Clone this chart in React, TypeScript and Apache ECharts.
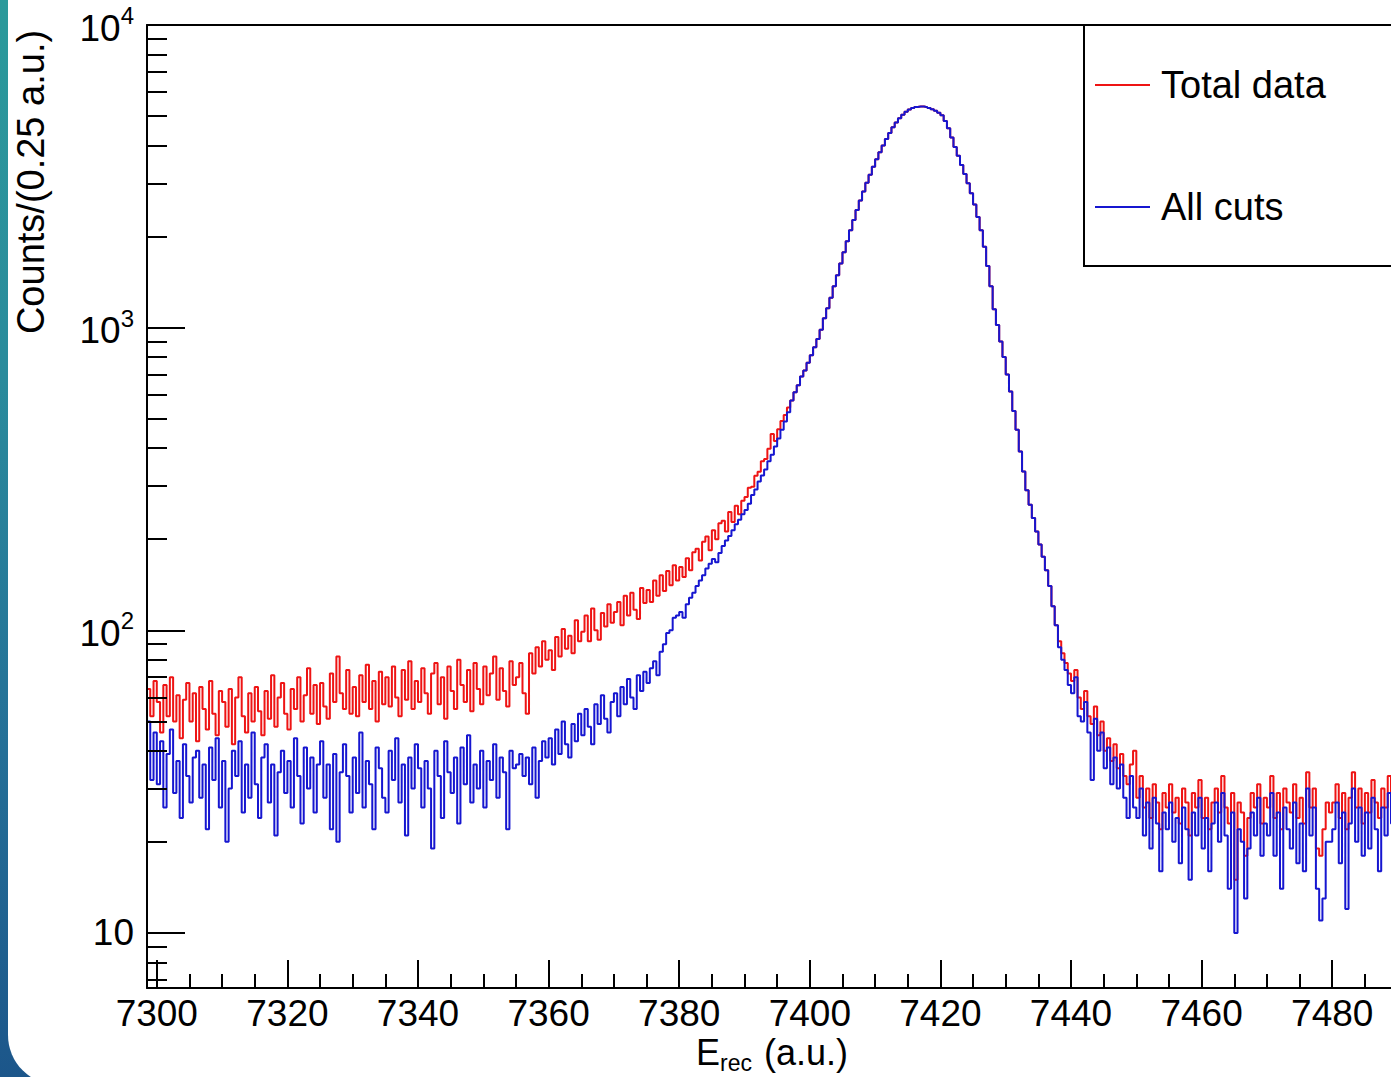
import React, { useEffect, useRef } from 'react';
import * as echarts from 'echarts';

const FONT = '"Liberation Sans", Arial, Helvetica, sans-serif';
const RED = '#ee1414';
const BLUE = '#1616d0';

// histogram binning (E_rec, a.u.)
const binStart = 7298.5;
const binWidth = 0.5;
const xMin = 7298.5;
const xMax = 7489;
const yMin = 6.58;
const yMax = 10000;

const xMajorTicks = [7300, 7320, 7340, 7360, 7380, 7400, 7420, 7440, 7460, 7480];
const xMinorTicks = [
  7305, 7310, 7315, 7325, 7330, 7335, 7345, 7350, 7355, 7365, 7370, 7375,
  7385, 7390, 7395, 7405, 7410, 7415, 7425, 7430, 7435, 7445, 7450, 7455,
  7465, 7470, 7475, 7485,
];
const yDecadeTicks = [10, 100, 1000, 10000];
const yMinorTicks = [
  7, 8, 9, 20, 30, 40, 50, 60, 70, 80, 90, 200, 300, 400, 500, 600, 700, 800, 900,
  2000, 3000, 4000, 5000, 6000, 7000, 8000, 9000,
];

// Total data, counts per bin starting at 7298.5
const totalData = [
  64, 52, 68,
  58, 46, 66, 52, 70, 50, 61, 44, 59, 67,
  50, 62, 43, 65, 55, 47, 68, 53, 45, 63,
  58, 48, 64, 42, 60, 70, 52, 46, 62, 50,
  65, 54, 45, 63, 51, 71, 48, 60, 67, 53,
  47, 64, 55, 70, 50, 61, 75, 53, 66, 49,
  67, 56, 51, 72, 58, 82, 62, 55, 74, 53,
  65, 52, 71, 58, 77, 55, 68, 50, 73, 57,
  70, 56, 76, 60, 52, 74, 59, 79, 55, 68,
  58, 75, 62, 53, 72, 78, 57, 70, 51, 76,
  63, 55, 80, 66, 58, 74, 54, 78, 64, 57,
  76, 61, 72, 82, 59, 75, 63, 56, 79, 66,
  70, 78, 62, 53, 84, 72, 88, 76, 92, 80,
  86, 74, 95, 82, 101, 87, 96, 84, 108, 92,
  99, 112, 92, 118, 100, 93, 114, 103, 122, 106,
  115, 124, 104, 130, 112, 133, 117, 109, 138, 123,
  136, 124, 146, 130, 152, 135, 157, 141, 164, 146,
  162, 150, 173, 158, 181, 186, 170, 196, 204, 184,
  214, 200, 226, 230, 212, 246, 228, 258, 242, 268,
  276, 296, 298, 324, 334, 362, 368, 398, 445, 422,
  462, 492, 515, 545, 575, 612, 645, 690, 722, 765,
  810, 862, 918, 985, 1075, 1160, 1255, 1370, 1490, 1630,
  1775, 1930, 2100, 2270, 2450, 2630, 2820, 3010, 3200, 3400,
  3600, 3800, 4000, 4200, 4400, 4590, 4760, 4920, 5050, 5170,
  5260, 5320, 5360, 5380, 5375, 5350, 5320, 5270, 5210, 5130,
  5030, 4820, 4560, 4250, 3950, 3700, 3450, 3220, 3000, 2780,
  2550, 2320, 2100, 1850, 1600, 1370, 1150, 1020, 900, 800,
  700, 615, 530, 460, 390, 335, 290, 260, 235, 212,
  192, 175, 158, 140, 120, 104, 92, 84, 78, 72,
  68, 74, 60, 55, 63, 52, 49, 56, 45, 50,
  40, 44, 37, 42, 35, 39, 33, 31, 36, 40,
  28, 33, 26, 30, 24, 31, 27, 22, 29, 26,
  31, 25, 28, 23, 30, 27, 21, 29, 26, 32,
  24, 28, 22, 27, 30, 25, 33, 26, 23, 29,
  15, 27, 25, 18, 24, 29, 26, 31, 23, 28,
  26, 33, 24, 29, 22, 30, 27, 25, 31, 24,
  28, 23, 34, 26, 30, 19, 18, 22, 27, 25,
  27, 31, 24, 29, 22, 28, 34, 26, 30, 23,
  29, 25, 32, 27, 24, 30, 26, 33, 28, 25,
];

// All cuts, counts per bin starting at 7298.5
const allCuts = [
  50, 32, 46,
  31, 43, 26, 39, 47, 29, 37, 24, 42, 33,
  27, 38, 40, 28, 36, 22, 41, 32, 44, 26,
  37, 20, 30, 40, 33, 43, 25, 36, 28, 46,
  31, 24, 38, 42, 27, 36, 21, 34, 40, 29,
  37, 26, 44, 33, 23, 41, 30, 38, 25, 36,
  43, 28, 36, 22, 39, 20, 34, 42, 33, 25,
  38, 29, 46, 26, 37, 31, 22, 41, 35, 28,
  25, 40, 32, 44, 27, 36, 21, 38, 30, 42,
  35, 26, 37, 30, 19, 40, 33, 24, 43, 34,
  29, 38, 23, 41, 31, 45, 27, 36, 30, 40,
  26, 37, 32, 42, 28, 38, 34, 22, 40, 35,
  36, 39, 33, 38, 31, 41, 28, 37, 43, 38,
  44, 36, 47, 39, 50, 42, 38, 49, 43, 53,
  45, 55, 48, 42, 57, 49, 61, 51, 46, 58,
  62, 52, 65, 57, 69, 60, 55, 71, 63, 73,
  67, 75, 79, 71, 85, 90, 98, 100, 110, 112,
  115, 110, 122, 128, 133, 140, 146, 152, 160, 166,
  172, 168, 180, 190, 198, 205, 214, 224, 232, 242,
  250, 262, 280, 292, 310, 325, 340, 362, 380, 405,
  430, 460, 490, 525, 575, 612, 645, 690, 722, 765,
  810, 862, 918, 985, 1075, 1160, 1255, 1370, 1490, 1630,
  1775, 1930, 2100, 2270, 2450, 2630, 2820, 3010, 3200, 3400,
  3600, 3800, 4000, 4200, 4400, 4590, 4760, 4920, 5050, 5170,
  5260, 5320, 5360, 5380, 5375, 5350, 5320, 5270, 5210, 5130,
  5030, 4820, 4560, 4250, 3950, 3700, 3450, 3220, 3000, 2780,
  2550, 2320, 2100, 1850, 1600, 1370, 1150, 1020, 900, 800,
  700, 615, 530, 460, 390, 335, 290, 260, 235, 212,
  192, 175, 158, 140, 120, 104, 88, 80, 74, 66,
  62, 70, 52, 50, 58, 46, 32, 51, 40, 46,
  35, 41, 31, 38, 30, 36, 28, 24, 33, 26,
  24, 30, 21, 27, 19, 28, 23, 16, 25, 22,
  27, 20, 24, 17, 26, 22, 15, 25, 21, 28,
  19, 24, 16, 23, 27, 20, 29, 21, 14, 25,
  10, 22, 20, 13, 19, 25, 21, 28, 18, 23,
  21, 29, 18, 25, 14, 26, 22, 19, 27, 17,
  23, 16, 30, 21, 26, 14, 11, 13, 20, 20,
  22, 27, 17, 25, 12, 23, 30, 20, 26, 18,
  25, 19, 28, 22, 16, 26, 21, 29, 23, 18,
];

function toSteps(values: number[]): number[][] {
  const pts = values.map((v, i) => [binStart + i * binWidth, v]);
  pts.push([binStart + values.length * binWidth, values[values.length - 1]]);
  return pts;
}

const axisBlack = { color: '#000', width: 2 };

function buildOption() {
  const logMin = Math.log10(yMin);
  const logMax = Math.log10(yMax);
  return {
    animation: false,
    textStyle: { fontFamily: FONT },
    grid: { left: 147, right: 0, top: 25, bottom: 89 },
    legend: {
      orient: 'vertical',
      left: 1084,
      top: 25,
      padding: [41, 90, 40, 11],
      itemGap: 84,
      itemWidth: 55,
      itemHeight: 2,
      icon: 'rect',
      backgroundColor: '#fff',
      borderColor: '#000',
      borderWidth: 2,
      borderRadius: 0,
      selectedMode: false,
      textStyle: { fontSize: 38, fontFamily: FONT, color: '#000', padding: [0, 0, 0, 6] },
      data: [
        { name: 'Total data', itemStyle: { color: RED } },
        { name: 'All cuts', itemStyle: { color: BLUE } },
      ],
    },
    xAxis: [
      { type: 'value', min: xMin, max: xMax, show: false },
      {
        type: 'value', min: xMin, max: xMax, position: 'bottom', z: 5,
        axisLine: { show: true, onZero: false, lineStyle: axisBlack },
        axisTick: { show: true, inside: true, length: 28, customValues: xMajorTicks, lineStyle: axisBlack },
        axisLabel: {
          show: true, customValues: xMajorTicks, margin: 10, fontSize: 37, lineHeight: 30,
          fontFamily: FONT, color: '#000',
          formatter: (v: number) => String(Math.round(v)),
        },
        splitLine: { show: false },
      },
      {
        type: 'value', min: xMin, max: xMax, position: 'bottom', z: 5,
        axisLine: { show: false },
        axisTick: { show: true, inside: true, length: 14, customValues: xMinorTicks, lineStyle: axisBlack },
        axisLabel: { show: false },
        splitLine: { show: false },
      },
      {
        type: 'value', min: xMin, max: xMax, position: 'top', z: 5,
        axisLine: { show: true, onZero: false, lineStyle: axisBlack },
        axisTick: { show: false },
        axisLabel: { show: false },
        splitLine: { show: false },
      },
    ],
    yAxis: [
      { type: 'log', logBase: 10, min: yMin, max: yMax, show: false },
      {
        type: 'value', min: logMin, max: logMax, position: 'left', z: 5,
        axisLine: { show: true, onZero: false, lineStyle: axisBlack },
        axisTick: {
          show: true, inside: true, length: 38,
          customValues: yDecadeTicks.map((v) => Math.log10(v)), lineStyle: axisBlack,
        },
        axisLabel: {
          show: true,
          customValues: yDecadeTicks.map((v) => Math.log10(v)),
          margin: 13,
          showMinLabel: true,
          showMaxLabel: true,
          formatter: (v: number) => {
            const n = Math.round(v);
            return n === 1 ? '{b|10}' : '{b|10}{s|' + n + '}';
          },
          rich: {
            b: { fontSize: 37, fontFamily: FONT, color: '#000', verticalAlign: 'bottom' },
            s: { fontSize: 24, fontFamily: FONT, color: '#000', verticalAlign: 'top', lineHeight: 43 },
          },
        },
        splitLine: { show: false },
      },
      {
        type: 'value', min: logMin, max: logMax, position: 'left', z: 5,
        axisLine: { show: false },
        axisTick: {
          show: true, inside: true, length: 20,
          customValues: yMinorTicks.map((v) => Math.log10(v)), lineStyle: axisBlack,
        },
        axisLabel: { show: false },
        splitLine: { show: false },
      },
    ],
    graphic: [
      {
        type: 'text',
        x: 31,
        y: 182,
        rotation: Math.PI / 2,
        style: {
          text: 'Counts/(0.25 a.u.)',
          fontSize: 38,
          fontFamily: FONT,
          fill: '#000',
          align: 'center',
          verticalAlign: 'middle',
        },
      },
      {
        type: 'text',
        x: 696,
        y: 1052,
        style: {
          text: 'E', fontSize: 36, lineHeight: 30, fontFamily: FONT, fill: '#000',
          align: 'left', verticalAlign: 'middle',
        },
      },
      {
        type: 'text',
        x: 720,
        y: 1063,
        style: {
          text: 'rec', fontSize: 23, lineHeight: 18, fontFamily: FONT, fill: '#000',
          align: 'left', verticalAlign: 'middle',
        },
      },
      {
        type: 'text',
        x: 764,
        y: 1052,
        style: {
          text: '(a.u.)', fontSize: 36, lineHeight: 30, fontFamily: FONT, fill: '#000',
          align: 'left', verticalAlign: 'middle',
        },
      },
    ],
    series: [
      {
        name: 'Total data',
        type: 'line',
        xAxisIndex: 0,
        yAxisIndex: 0,
        step: 'end',
        showSymbol: false,
        symbol: 'none',
        silent: true,
        z: 2,
        lineStyle: { color: RED, width: 2 },
        itemStyle: { color: RED },
        data: toSteps(totalData),
      },
      {
        name: 'All cuts',
        type: 'line',
        xAxisIndex: 0,
        yAxisIndex: 0,
        step: 'end',
        showSymbol: false,
        symbol: 'none',
        silent: true,
        z: 3,
        lineStyle: { color: BLUE, width: 2 },
        itemStyle: { color: BLUE },
        data: toSteps(allCuts),
      },
    ],
  };
}

export default function App() {
  const ref = useRef<HTMLDivElement>(null);
  useEffect(() => {
    if (!ref.current) return;
    const chart = echarts.init(ref.current, null, { renderer: 'svg' });
    chart.setOption(buildOption() as any);
    return () => chart.dispose();
  }, []);
  return (
    <div
      style={{
        position: 'fixed',
        left: 0,
        top: 0,
        width: 1391,
        height: 1077,
        overflow: 'hidden',
        background: 'linear-gradient(180deg, #2b9a9b 0%, #2a8b9c 35%, #246f97 70%, #1c568a 100%)',
      }}
    >
      <div
        style={{
          position: 'absolute',
          left: 8,
          top: -40,
          width: 1440,
          height: 1125,
          background: '#fff',
          borderBottomLeftRadius: 50,
        }}
      />
      <div ref={ref} style={{ position: 'absolute', left: 0, top: 0, width: 1391, height: 1077 }} />
    </div>
  );
}
